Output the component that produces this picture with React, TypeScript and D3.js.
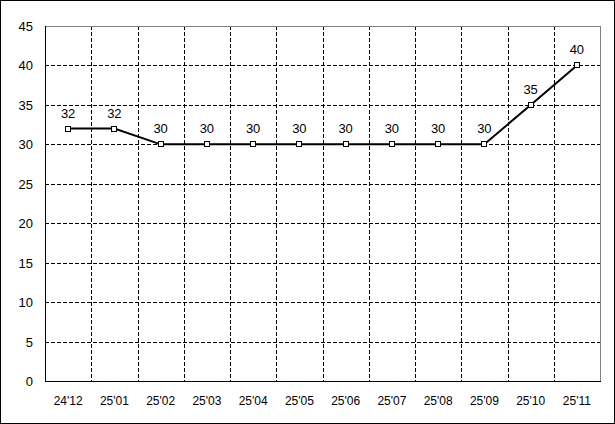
import React from "react";
import * as d3 from "d3";

const categories = ["24'12", "25'01", "25'02", "25'03", "25'04", "25'05", "25'06", "25'07", "25'08", "25'09", "25'10", "25'11"];
const values = [32, 32, 30, 30, 30, 30, 30, 30, 30, 30, 35, 40];
const yTicks = [0, 5, 10, 15, 20, 25, 30, 35, 40, 45];

const W = 615;
const H = 424;
const L = 45, R = 600, T = 26, B = 381;
const FONT = "'Liberation Sans', Arial, sans-serif";

export default function App() {
  const x = d3.scaleBand<string>().domain(categories).range([L, R]);
  const y = d3.scaleLinear().domain([0, 45]).range([B, T]);
  const cx = (c: string) => (x(c) as number) + x.bandwidth() / 2;
  const line = d3.line<number>().x((_, i) => cx(categories[i])).y((v) => y(v));

  return (
    <svg width={W} height={H} style={{ position: "fixed", left: 0, top: 0, background: "#fff" }} fontFamily={FONT}>
      <rect x={0.5} y={0.5} width={W - 1} height={H - 1} fill="#fff" stroke="#000" strokeWidth={1} />
      {/* horizontal gridlines */}
      {yTicks.filter((t) => t > 0 && t < 45).map((t) => (
        <line key={"h" + t} x1={L} x2={R} y1={Math.round(y(t)) + 0.5} y2={Math.round(y(t)) + 0.5} stroke="#000" strokeDasharray="4,2" strokeWidth={1} />
      ))}
      {/* vertical gridlines */}
      {categories.slice(1).map((c) => (
        <line key={"v" + c} x1={Math.round(x(c) as number) + 0.5} x2={Math.round(x(c) as number) + 0.5} y1={T} y2={B} stroke="#000" strokeDasharray="4,2" strokeWidth={1} />
      ))}
      {/* top/right frame */}
      <line x1={L} x2={R + 0.5} y1={T + 0.5} y2={T + 0.5} stroke="#808080" />
      <line x1={R + 0.5} x2={R + 0.5} y1={T} y2={B} stroke="#808080" />
      {/* axes */}
      <line x1={L + 0.5} x2={L + 0.5} y1={T} y2={B + 1} stroke="#000" />
      <line x1={L} x2={R + 1} y1={B + 0.5} y2={B + 0.5} stroke="#000" />
      {/* y labels */}
      {yTicks.map((t) => (
        <text key={"yl" + t} x={33} y={y(t) + 5} textAnchor="end" fontSize={13} fill="#000">{t}</text>
      ))}
      {/* x labels */}
      {categories.map((c) => (
        <text key={"xl" + c} x={cx(c)} y={405} textAnchor="middle" fontSize={12} fill="#000">{c}</text>
      ))}
      {/* series line */}
      <path d={line(values) as string} fill="none" stroke="#000" strokeWidth={2} />
      {values.map((v, i) => (
        <rect key={"m" + i} x={Math.round(cx(categories[i])) - 2.5} y={Math.round(y(v)) - 2.5} width={5} height={5} fill="#fff" stroke="#000" strokeWidth={1} />
      ))}
      {values.map((v, i) => (
        <text key={"dl" + i} x={cx(categories[i])} y={y(v) - 11} textAnchor="middle" fontSize={13} fill="#000">{v}</text>
      ))}
    </svg>
  );
}
